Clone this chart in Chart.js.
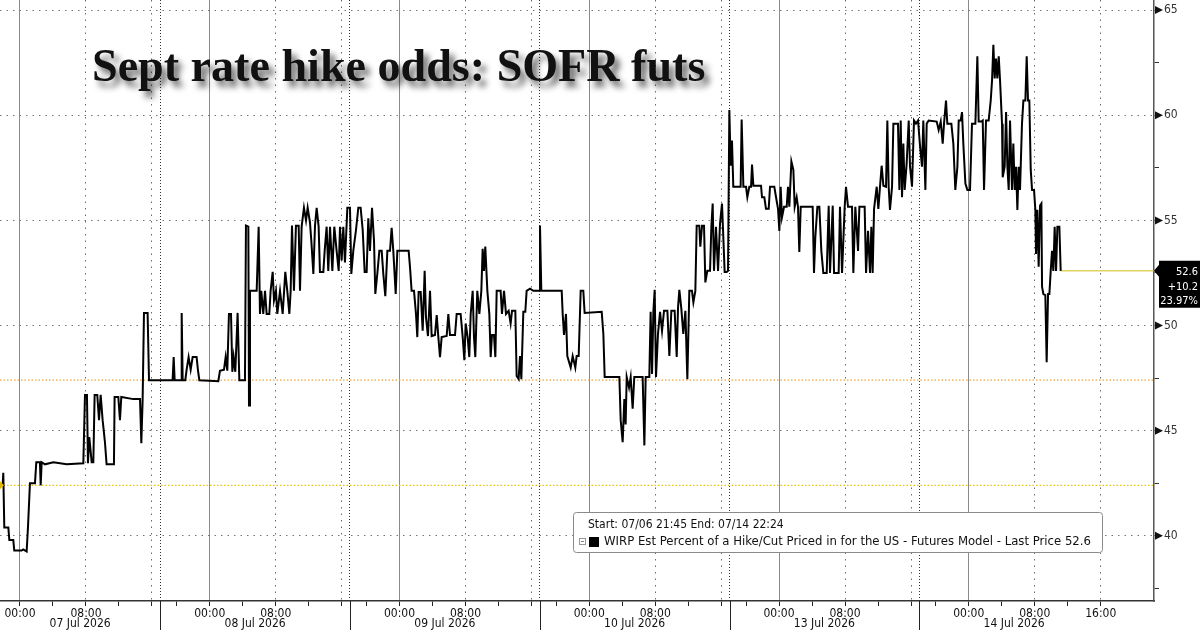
<!DOCTYPE html>
<html>
<head>
<meta charset="utf-8">
<script src="https://cdn.jsdelivr.net/npm/chart.js@4.4.1/dist/chart.umd.min.js"></script>
<style>
  html, body { margin: 0; padding: 0; background: #fff; }
  #wrap { width: 1200px; height: 630px; }
</style>
</head>
<body>
<div id="wrap"><canvas id="c" width="1200" height="630"></canvas></div>
<script>
// x = trading-clock hours, 0 = 07 Jul 00:00; every session day is 23h (17:00-18:00 break dropped)
var hours = [
  -2.42,-2.1,-2.02,-1.9,-1.41,-1.29,-0.81,-0.69,0.2,0.4,
  0.81,0.97,1.21,1.82,1.98,2.42,2.51,2.63,3.03,4.04,
  5.66,7.68,7.88,8.12,8.24,8.4,8.69,8.89,9.05,9.37,
  9.58,9.78,10.02,10.3,10.5,11.39,11.47,11.92,12.12,12.28,
  13.74,14.55,14.71,14.87,15.03,15.47,15.64,18.5,18.63,18.75,
  19.52,19.6,19.72,20.04,20.2,20.44,20.69,20.93,21.41,21.58,
  21.74,24.04,24.24,24.73,24.93,25.13,25.33,25.58,25.74,25.9,
  26.1,26.38,26.59,27.27,27.39,27.68,27.76,27.88,28.69,28.93,
  29.09,29.25,29.49,29.7,29.9,30.22,30.38,30.63,30.79,31.03,
  31.19,31.52,31.84,32.16,32.4,32.65,32.81,32.97,33.21,33.45,
  33.78,33.94,
  34.14,34.42,34.67,34.87,35.15,35.31,35.56,35.76,35.96,36.2,
  36.36,36.77,36.93,37.17,37.37,37.58,37.86,38.1,38.38,38.63,
  38.79,38.99,39.19,39.39,39.68,40.0,40.16,40.4,40.73,41.01,
  41.29,41.54,41.78,42.02,42.22,42.42,42.67,42.91,43.07,43.31,
  43.56,43.84,44.04,44.28,44.53,44.85,45.05,45.25,45.54,45.74,
  47.11,47.27,47.47,47.76,48.0,48.16,48.32,48.57,48.81,49.05,
  49.21,49.45,49.7,49.9,50.3,50.51,50.71,50.91,51.11,51.72,
  51.92,52.12,52.73,52.93,53.41,53.66,53.86,54.02,54.26,54.46,
  54.63,54.87,55.03,55.19,55.43,55.68,55.92,56.08,56.24,56.4,
  56.65,56.89,57.05,57.21,57.45,57.62,57.78,58.26,58.42,58.67,
  58.91,59.23,59.47,59.64,60.04,60.2,60.44,60.61,60.77,61.01,
  61.25,61.41,61.82,62.22,62.95,63.03,63.19,65.66,65.78,65.94,
  66.18,66.34,66.75,66.99,67.31,67.47,67.72,67.96,68.28,68.44,
  70.51,70.71,70.87,71.92,72.65,72.81,73.05,73.25,73.41,73.54,
  73.82,74.02,74.26,74.46,75.47,75.68,75.84,76.28,76.44,76.61,
  76.77,76.93,77.09,77.33,77.58,77.82,78.06,78.47,78.71,78.95,
  79.35,79.6,79.76,79.92,80.16,80.4,80.65,80.89,81.13,81.45,
  81.62,81.86,82.02,82.34,82.46,82.67,82.91,83.07,83.31,83.64,
  83.8,83.96,84.12,84.36,84.61,84.85,85.09,85.25,85.41,85.66,
  85.82,85.98,86.14,86.3,86.46,87.35,87.47,87.68,88.0,88.16,
  88.4,88.61,88.73,88.89,89.82,89.94,90.22,90.42,90.75,90.91,
  91.43,91.64,91.88,92.04,92.2,92.36,92.61,92.93,93.09,93.25,
  93.5,93.74,93.9,94.14,94.3,94.46,94.63,96.08,96.24,96.4,
  96.65,96.89,97.13,97.37,97.78,98.02,98.18,98.51,98.67,99.23,
  99.39,99.64,99.96,100.12,100.36,100.85,101.01,101.25,101.58,101.74,
  102.38,102.55,102.79,103.03,103.19,103.35,
  103.52,103.84,104.04,104.24,104.44,104.65,104.97,105.13,105.29,105.45,
  105.7,105.86,106.42,106.59,106.75,106.91,107.07,107.23,107.47,107.72,
  107.88,108.12,108.36,108.6,108.85,109.09,109.33,109.49,109.74,109.9,
  110.14,111.11,111.35,111.6,111.84,112.0,112.24,112.4,112.89,113.13,
  113.37,113.62,113.78,114.02,114.18,114.34,114.59,114.83,115.15,115.39,
  115.8,116.04,116.2,116.53,116.69,116.85,117.09,117.41,117.66,117.82,
  117.98,118.14,118.3,118.46,118.63,118.79,119.03,119.11,119.35,119.52,
  119.68,119.84,120.0,120.24,120.4,120.57,120.73,120.89,121.05,121.21,
  121.45,121.62,121.86,122.02,122.18,122.34,122.51,122.67,122.91,123.07,
  123.15,123.31,123.47,123.64,123.8,123.88,124.04,124.28,124.44,124.61,
  124.77,124.93,125.09,125.25,125.41,125.58,125.74,125.98,126.14
];
var odds = [
  42.4,42.4,43.0,40.4,40.4,39.8,39.8,39.3,39.3,39.35,
  39.25,40.4,42.5,42.5,43.5,43.5,42.4,43.5,43.4,43.5,
  43.4,43.45,46.7,46.7,43.45,44.7,43.5,43.5,46.7,46.7,
  45.5,46.7,45.5,44.45,43.4,43.4,46.6,46.6,45.5,46.6,
  46.5,46.5,44.4,46.5,50.6,50.6,47.4,47.4,48.5,47.4,
  47.4,50.6,47.4,47.4,47.9,48.5,47.9,48.5,48.5,47.85,
  47.4,47.35,47.85,47.9,48.5,47.85,50.55,50.55,47.8,48.5,
  47.8,50.6,47.4,47.4,54.75,54.7,46.2,51.65,51.65,54.7,
  50.55,51.65,50.55,51.65,50.55,50.55,51.65,52.55,51.2,51.65,
  50.55,51.65,50.55,52.55,51.65,50.55,51.65,54.75,51.65,54.75,
  54.75,51.65,
  54.7,55.6,55.0,55.6,54.9,54.05,52.45,54.75,55.6,54.7,
  52.55,52.55,53.55,54.7,52.6,54.7,52.6,54.7,53.55,52.6,
  54.7,53.1,54.7,53.0,55.6,55.6,52.45,53.55,54.55,55.6,
  55.6,54.55,52.55,52.55,55.1,53.55,55.6,54.05,51.5,52.45,
  53.55,53.55,52.45,51.4,53.55,53.55,54.65,53.55,51.5,53.55,
  53.55,52.8,51.65,51.65,50.55,49.45,51.6,51.6,49.75,52.6,
  50.4,49.5,51.65,49.5,49.55,50.5,49.45,48.5,49.45,49.5,
  50.55,49.55,49.55,50.55,50.55,49.45,48.35,50.1,49.45,48.5,
  50.55,51.65,49.45,48.5,51.65,50.55,51.65,53.65,52.6,53.75,
  51.65,50.55,48.5,49.55,49.55,48.5,51.65,51.65,50.55,51.65,
  50.55,50.7,50.1,50.7,50.7,47.6,47.45,48.55,47.45,50.65,
  50.65,51.65,51.75,51.65,51.65,54.75,51.65,51.65,50.55,49.55,
  50.55,48.55,48.0,48.55,48.0,48.55,48.55,51.65,51.65,50.6,
  50.65,49.6,47.55,47.55,47.55,45.5,44.45,46.5,45.3,47.55,
  47.05,47.55,46.05,47.55,47.55,44.3,47.55,47.55,50.65,47.7,
  50.65,51.7,47.55,49.6,50.65,49.75,50.7,50.7,48.55,50.7,
  50.7,48.5,50.85,51.7,50.8,49.6,50.7,47.45,51.65,51.65,
  51.1,51.65,54.75,54.75,53.75,54.75,54.75,52.05,52.6,52.6,
  54.7,55.8,52.6,54.7,52.6,54.85,55.8,54.2,52.55,52.55,
  52.6,60.25,57.6,58.8,56.6,56.6,59.8,56.6,56.6,56.1,
  56.6,56.6,57.65,56.65,56.65,56.1,56.1,55.55,55.55,56.6,
  56.6,56.1,55.55,54.5,56.6,55.15,55.65,55.65,56.6,55.65,
  57.8,57.4,55.65,56.1,55.65,53.5,55.65,55.65,52.5,54.2,
  55.65,55.65,53.55,52.5,52.5,55.7,52.5,55.7,52.5,52.5,
  55.65,52.5,55.65,56.6,55.65,55.65,52.5,55.65,53.55,55.65,
  55.65,52.5,54.5,52.5,54.7,52.5,
  55.55,56.6,55.55,56.6,57.6,56.65,56.6,59.75,56.6,55.5,
  56.6,59.6,59.6,56.45,59.75,56.1,58.65,56.45,57.7,59.75,
  57.55,56.6,59.75,59.6,59.75,58.55,57.55,59.75,56.45,59.6,
  59.75,59.7,59.3,59.7,58.65,59.6,60.7,59.6,59.6,58.65,
  56.45,57.55,59.75,59.75,60.15,58.65,56.75,56.45,56.45,59.6,
  59.6,62.8,59.7,59.7,59.75,56.45,59.75,59.75,60.7,61.65,
  63.35,61.75,62.7,61.75,62.8,61.65,59.6,57.05,57.55,60.15,
  57.55,56.45,59.75,56.45,58.65,56.45,57.55,55.5,57.55,56.45,
  59.6,60.7,60.7,62.8,60.7,60.7,57.4,56.45,56.45,55.5,
  53.4,55.5,52.8,55.7,55.8,51.85,51.5,51.45,48.25,51.5,
  51.5,52.6,53.55,52.6,54.7,52.6,54.7,54.7,52.6
];

var dayLabels = ['07 Jul 2026', '08 Jul 2026', '09 Jul 2026', '10 Jul 2026', '13 Jul 2026', '14 Jul 2026'];
var refLevels = [47.4, 42.4];
var lastPrice = 52.6;
var netChange = '+10.2';
var pctChange = '23.97%';
var yTicks = [37.5, 40, 42.5, 45, 47.5, 50, 52.5, 55, 57.5, 60, 62.5, 65];
var chartTitle = 'Sept rate hike odds: SOFR futs';
var legendLines = ['Start: 07/06 21:45 End: 07/14 22:24',
  'WIRP Est Percent of a Hike/Cut Priced in for the US - Futures Model - Last Price 52.6'];

var DAY = 23, xMin = -2.42, xMax = 137.45, yMin = 36.9, yMax = 65.48;
var axisFont = "'DejaVu Sans Condensed', 'DejaVu Sans', sans-serif";

// ticks every 4h, plus the 17:00 session break
var xTicks = [];
for (var d = 0; d < dayLabels.length; d++) {
  [0, 4, 8, 12, 16].forEach(function (h) { xTicks.push(d * DAY + h); });
  if (d < dayLabels.length - 1) { xTicks.push(d * DAY + 17); xTicks.push(d * DAY + 19); }
}

function kindOf(v) {
  var r = Math.round(((v % DAY) + DAY) % DAY);
  if (r === 0) return 'day';
  if (r === 8 || r === 16) return 'dot';
  if (r === 17) return 'sep';
  return 'minor';
}
function timeLabel(v) {
  var d = Math.floor(v / DAY), r = Math.round(v - d * DAY);
  if (r === 0) return '00:00';
  if (r === 8) return '08:00';
  if (r === 16 && d === dayLabels.length - 1) return '16:00';
  return '';
}

var points = hours.map(function (h, i) { return { x: h, y: odds[i] }; });
var lastHour = hours[hours.length - 1];

var overlay = {
  id: 'overlay',
  afterDraw: function (chart) {
    var ctx = chart.ctx, xs = chart.scales.x, ys = chart.scales.y, area = chart.chartArea;
    ctx.save();

    // session breaks run down through the date row
    ctx.strokeStyle = '#222';
    ctx.lineWidth = 1;
    for (var d = 0; d < dayLabels.length - 1; d++) {
      var sx = Math.round(xs.getPixelForValue(d * DAY + 17)) + 0.5;
      ctx.beginPath(); ctx.moveTo(sx, area.bottom); ctx.lineTo(sx, 630); ctx.stroke();
    }

    // date row
    ctx.fillStyle = '#111';
    ctx.font = '12px ' + axisFont;
    ctx.textAlign = 'center';
    ctx.textBaseline = 'middle';
    dayLabels.forEach(function (lab, i) {
      var c = i === 0 ? (xMin + 17) / 2 : i * DAY + 5.5;
      ctx.fillText(lab, xs.getPixelForValue(c), 624);
    });

    // arrow heads on the major y ticks
    ctx.fillStyle = '#111';
    yTicks.forEach(function (v) {
      if (v % 5 !== 0) return;
      var py = ys.getPixelForValue(v);
      ctx.beginPath();
      ctx.moveTo(area.right + 1, py - 4);
      ctx.lineTo(area.right + 9, py);
      ctx.lineTo(area.right + 1, py + 4);
      ctx.closePath(); ctx.fill();
    });

    // small marker for the starting level on the left edge
    var sy = ys.getPixelForValue(refLevels[1]);
    ctx.fillStyle = '#e0b800';
    ctx.beginPath(); ctx.moveTo(area.left, sy - 4); ctx.lineTo(area.left + 4, sy); ctx.lineTo(area.left, sy + 4); ctx.fill();

    // last price tag
    var py = ys.getPixelForValue(lastPrice), bx = area.right + 5;
    ctx.fillStyle = '#000';
    ctx.beginPath();
    ctx.moveTo(area.right, py);
    ctx.lineTo(bx, py - 6);
    ctx.lineTo(bx, py - 10);
    ctx.lineTo(1200, py - 10);
    ctx.lineTo(1200, py + 37);
    ctx.lineTo(bx, py + 37);
    ctx.lineTo(bx, py + 6);
    ctx.closePath(); ctx.fill();
    ctx.fillStyle = '#fff';
    ctx.font = '11px ' + axisFont;
    ctx.textAlign = 'right';
    ctx.fillText(String(lastPrice), 1198, py + 1);
    ctx.fillText(netChange, 1198, py + 16);
    ctx.fillText(pctChange, 1198, py + 30);

    // legend box
    ctx.fillStyle = '#fff';
    ctx.strokeStyle = '#8a8a8a';
    ctx.lineWidth = 1;
    ctx.beginPath();
    ctx.roundRect(573.5, 512.5, 529, 40, 3);
    ctx.fill(); ctx.stroke();
    ctx.fillStyle = '#111';
    ctx.textAlign = 'left';
    ctx.font = '12px ' + axisFont;
    ctx.fillText(legendLines[0], 588, 525);
    var w = ctx.measureText(legendLines[1]).width;
    var fs = Math.max(10, Math.min(13, 12 * 490 / w));
    ctx.font = fs.toFixed(2) + 'px ' + axisFont;
    ctx.fillText(legendLines[1], 604, 542);
    ctx.strokeStyle = '#999';
    ctx.strokeRect(579.5, 538.5, 6, 6);
    ctx.fillStyle = '#888';
    ctx.fillRect(581, 541, 3, 1);
    ctx.fillStyle = '#000';
    ctx.fillRect(589, 537, 10, 10);

    // title with soft drop shadow
    ctx.font = 'bold 50px "Liberation Serif", serif';
    var tw = ctx.measureText(chartTitle).width;
    var ts = 50 * 614 / tw;
    ctx.font = 'bold ' + ts.toFixed(1) + 'px "Liberation Serif", serif';
    ctx.textAlign = 'left';
    ctx.textBaseline = 'alphabetic';
    ctx.shadowColor = 'rgba(0,0,0,0.6)';
    ctx.shadowBlur = 6;
    ctx.shadowOffsetX = 5;
    ctx.shadowOffsetY = 6;
    ctx.fillStyle = '#111';
    ctx.fillText(chartTitle, 92, 81);

    ctx.restore();
  }
};

new Chart(document.getElementById('c').getContext('2d'), {
  type: 'line',
  data: {
    datasets: [
      {
        label: 'WIRP',
        data: points,
        borderColor: '#000',
        borderWidth: 2,
        pointRadius: 0,
        tension: 0
      },
      {
        label: 'last',
        data: [{ x: lastHour, y: lastPrice }, { x: xMax, y: lastPrice }],
        borderColor: '#d2bc10',
        borderWidth: 1,
        pointRadius: 0
      },
      {
        label: 'ref1',
        data: [{ x: xMin, y: refLevels[0] }, { x: xMax, y: refLevels[0] }],
        borderColor: '#f0a236',
        borderWidth: 1.2,
        borderDash: [1.5, 2],
        pointRadius: 0
      },
      {
        label: 'ref2',
        data: [{ x: xMin, y: refLevels[1] }, { x: xMax, y: refLevels[1] }],
        borderColor: '#e6c400',
        borderWidth: 1.2,
        borderDash: [1.5, 2],
        pointRadius: 0
      }
    ]
  },
  options: {
    responsive: false,
    animation: false,
    devicePixelRatio: 1,
    layout: { padding: 0 },
    plugins: { legend: { display: false }, tooltip: { enabled: false }, title: { display: false } },
    scales: {
      x: {
        type: 'linear',
        min: xMin,
        max: xMax,
        afterBuildTicks: function (s) { s.ticks = xTicks.map(function (v) { return { value: v }; }); },
        afterFit: function (s) { s.height = 29; s.paddingLeft = 0; s.paddingRight = 0; },
        ticks: {
          autoSkip: false, maxRotation: 0, minRotation: 0, padding: 1,
          color: '#111', font: { family: axisFont, size: 12 },
          callback: function (v) { return timeLabel(v); }
        },
        grid: {
          lineWidth: 1,
          tickLength: 5,
          color: function (c) {
            if (!c.tick) return 'rgba(0,0,0,0)';
            var k = kindOf(c.tick.value);
            return k === 'day' ? '#8a8a8a' : k === 'dot' ? '#6a6a6a' : k === 'sep' ? '#333' : 'rgba(0,0,0,0)';
          },
          tickColor: function (c) {
            return c.tick && kindOf(c.tick.value) === 'sep' ? 'rgba(0,0,0,0)' : '#222';
          }
        },
        border: {
          color: '#333', width: 1.5,
          dash: function (c) {
            if (!c.tick) return [];
            var k = kindOf(c.tick.value);
            return k === 'dot' ? [1.5, 5] : k === 'sep' ? [1, 2] : [];
          }
        }
      },
      y: {
        type: 'linear',
        position: 'right',
        min: yMin,
        max: yMax,
        afterBuildTicks: function (s) { s.ticks = yTicks.map(function (v) { return { value: v }; }); },
        afterFit: function (s) { s.width = 46; s.paddingTop = 0; s.paddingBottom = 0; },
        ticks: {
          padding: 5, color: '#333', font: { family: axisFont, size: 12 },
          callback: function (v) { return v % 5 === 0 ? String(v) : ''; }
        },
        grid: {
          lineWidth: 1,
          tickLength: 5,
          tickColor: '#333',
          color: function (c) { return c.tick && c.tick.value % 5 === 0 ? '#777' : 'rgba(0,0,0,0)'; }
        },
        border: {
          color: '#555', width: 1.5,
          dash: function (c) { return c.tick ? [1.5, 5] : []; }
        }
      }
    }
  },
  plugins: [overlay]
});
</script>
</body>
</html>
